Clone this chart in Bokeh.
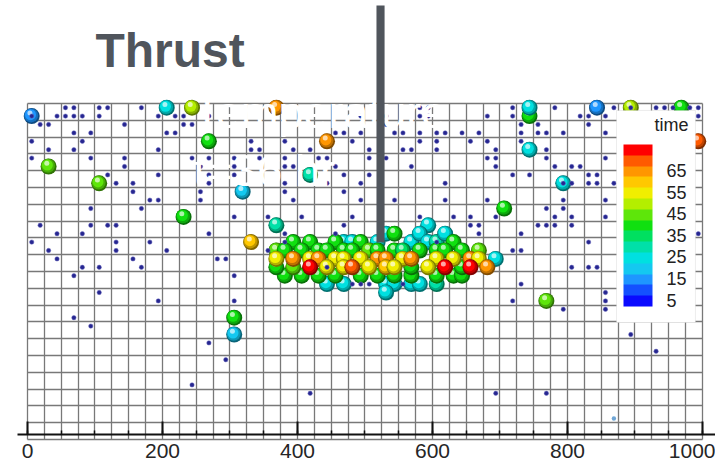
from bokeh.plotting import figure
from bokeh.models import (Range1d, LinearAxis, SingleIntervalTicker, Grid, Label,
                          BoxAnnotation, ColorBar, LinearColorMapper, FixedTicker,
                          ColumnDataSource)
from bokeh.embed import file_html
from bokeh.resources import INLINE

# ---------------------------------------------------------------- data
# colour scale for "time" (15 bands of 5, from 2 to 77)
TIME_LOW, TIME_HIGH = 2, 77
PALETTE = [
    "#0a0aff", "#1450ff", "#1e96ff", "#14c8f0", "#00e0e0",
    "#00e0a8", "#00e060", "#10e010", "#5ee60a", "#b4ee00",
    "#f0ee00", "#ffc800", "#ff9600", "#ff5a00", "#ff0000",
]
TIME_TICKS = [5, 15, 25, 35, 45, 55, 65]

X_TICK_LABEL_STEP = 200

# sensor points: y of each row and the x positions along it
dot_rows = [
    (493.75, [56.25, 68.75, 106.25, 118.75, 168.75, 581.25, 593.75, 718.75, 781.25,
              868.75, 893.75, 931.25, 943.75, 956.25, 981.25, 993.75]),
    (481.25, [6.25, 43.75, 56.25, 68.75, 81.25, 106.25, 193.75, 218.75, 231.25, 268.75,
              493.75, 531.25, 581.25, 593.75, 681.25, 718.75, 818.75, 831.25, 856.25, 993.75]),
    (468.75, [18.75, 31.25, 143.75, 231.25, 243.75, 531.25, 731.25, 756.25, 831.25]),
    (456.25, [68.75, 93.75, 206.25, 218.75, 456.25, 468.75, 493.75, 543.75, 556.25, 581.25,
              606.25, 618.75, 643.75, 668.75, 731.25, 756.25, 768.75, 793.75, 856.25]),
    (443.75, [6.25, 81.25, 331.25, 381.25, 481.25, 581.25, 606.25, 656.25, 681.25, 731.25]),
    (431.25, [31.25, 68.75, 193.75, 331.25, 343.75, 393.75, 418.75, 506.25, 556.25, 568.75,
              606.25, 693.75, 768.75]),
    (418.75, [6.25, 93.75, 143.75, 243.75, 268.75, 306.25, 343.75, 381.25, 431.25, 443.75,
              506.25, 531.25, 681.25, 693.75, 768.75, 856.25]),
    (406.25, [143.75, 256.25, 306.25, 381.25, 393.75, 456.25, 568.75, 693.75, 781.25,
              806.25, 818.75]),
    (393.75, [118.75, 193.75, 268.75, 306.25, 468.75, 506.25, 718.75, 743.75, 831.25, 843.75]),
    (381.25, [131.25, 156.25, 268.75, 381.25, 443.75, 493.75, 618.75, 793.75, 806.25,
              831.25, 843.75, 868.75]),
    (368.75, [156.25, 256.25, 381.25, 468.75]),
    (356.25, [181.25, 193.75, 256.25, 393.75, 493.75, 543.75, 618.75, 681.25, 793.75, 856.25]),
    (343.75, [93.75, 168.75, 768.75, 793.75]),
    (331.25, [306.25, 356.25, 406.25, 481.25, 581.25, 631.25, 656.25, 693.75, 781.25,
              806.25, 856.25]),
    (318.75, [18.75, 93.75, 118.75, 131.25, 468.75, 656.25, 668.75, 756.25, 768.75,
              781.25, 806.25]),
    (306.25, [43.75, 81.25, 268.75, 381.25, 456.25, 668.75, 731.25, 993.75]),
    (293.75, [6.25, 131.25, 181.25, 381.25, 606.25, 831.25]),
    (281.25, [31.25, 131.25, 206.25, 356.25, 718.75, 731.25]),
    (268.75, [43.75, 156.25, 281.25, 293.75]),
    (256.25, [81.25, 106.25, 168.75, 443.75, 806.25, 831.25, 843.75]),
    (243.75, [68.75, 306.25]),
    (231.25, [481.25, 493.75, 506.25, 556.25, 731.25]),
    (218.75, [106.25, 856.25]),
    (206.25, [193.75, 306.25, 718.75, 856.25]),
    (193.75, [793.75, 856.25]),
    (181.25, [68.75]),
    (168.75, [93.75]),
    (156.25, [893.75]),
    (143.75, [268.75]),
    (131.25, [931.25]),
    (118.75, [293.75]),
    (81.25, [243.75]),
    (68.75, [418.75, 693.75, 768.75]),
]
faint_dot_x = [868.75]
faint_dot_y = [31.25]

# particles: position and time (drawn in list order, back to front)
ball_x = [
    # isolated particles
    6.25, 206.25, 243.75, 368.75, 268.75, 443.75, 31.25, 106.25, 318.75, 418.75,
    231.25, 368.75, 331.25, 593.75, 706.25, 743.75, 743.75, 743.75, 843.75, 893.75,
    968.75, 993.75, 793.75, 768.75, 306.25, 306.25,
    # cluster - top row
    468.75, 481.25, 518.75, 531.25, 568.75, 581.25, 593.75, 606.25, 618.75,
    393.75, 418.75, 456.25, 493.75, 543.75, 631.25,
    # cluster - bottom row
    443.75, 468.75, 531.25, 543.75, 568.75, 581.25, 606.25, 531.25, 693.75,
    # cluster - upper green row
    368.75, 381.25, 406.25, 431.25, 443.75, 468.75, 481.25, 506.25, 518.75, 543.75,
    556.25, 581.25, 606.25, 618.75, 643.75, 668.75,
    # cluster - lower green row
    381.25, 406.25, 431.25, 456.25, 493.75, 518.75, 543.75, 568.75, 606.25, 631.25, 643.75,
    368.75, 393.75, 568.75, 643.75,
    # cluster - hot core
    368.75, 393.75, 418.75, 431.25, 456.25, 468.75, 493.75, 518.75, 531.25, 556.25,
    568.75, 606.25, 631.25, 656.25, 668.75,
    418.75, 443.75, 468.75, 481.25, 506.25, 531.25, 543.75, 593.75, 618.75, 656.25, 681.25,
]
ball_y = [
    481.25, 493.75, 493.75, 493.75, 443.75, 443.75, 406.25, 381.25, 368.75, 393.75,
    331.25, 318.75, 293.75, 318.75, 343.75, 481.25, 493.75, 431.25, 493.75, 493.75,
    493.75, 443.75, 381.25, 206.25, 181.25, 156.25,
    293.75, 293.75, 293.75, 306.25, 293.75, 306.25, 293.75, 293.75, 306.25,
    293.75, 293.75, 293.75, 293.75, 306.25, 293.75,
    231.25, 231.25, 231.25, 231.25, 231.25, 231.25, 231.25, 218.75, 268.75,
    281.25, 281.25, 281.25, 281.25, 281.25, 281.25, 281.25, 281.25, 281.25, 281.25,
    281.25, 281.25, 281.25, 281.25, 281.25, 281.25,
    243.75, 243.75, 243.75, 243.75, 243.75, 243.75, 243.75, 243.75, 243.75, 243.75, 243.75,
    256.25, 256.25, 256.25, 256.25,
    268.75, 268.75, 268.75, 268.75, 268.75, 268.75, 268.75, 268.75, 268.75, 268.75,
    268.75, 268.75, 268.75, 268.75, 268.75,
    256.25, 256.25, 256.25, 256.25, 256.25, 256.25, 256.25, 256.25, 256.25, 256.25, 256.25,
]
ball_t = [
    12, 22, 50, 63, 40, 63, 45, 43, 20, 27,
    40, 29, 57, 25, 40, 38, 23, 25, 12, 48,
    38, 70, 26, 43, 40, 21,
    24, 26, 23, 25, 26, 24, 25, 27, 24,
    40, 38, 40, 41, 38, 37,
    25, 24, 23, 26, 25, 24, 27, 22, 26,
    46, 40, 40, 41, 39, 40, 40, 42, 39, 40,
    33, 40, 41, 38, 40, 46,
    40, 41, 39, 40, 40, 40, 39, 40, 38, 40, 41,
    40, 42, 40, 40,
    55, 64, 55, 63, 56, 54, 55, 64, 63, 55,
    62, 56, 54, 64, 56,
    72, 55, 56, 68, 55, 57, 54, 55, 73, 73, 64,
]

# ---------------------------------------------------------------- helpers
def mix(hex_color, target, f):
    r, g, b = (int(hex_color[i:i + 2], 16) for i in (1, 3, 5))
    tr, tg, tb = target
    return "#%02x%02x%02x" % (round(r + (tr - r) * f), round(g + (tg - g) * f), round(b + (tb - b) * f))


def band_color(t):
    k = int((t - TIME_LOW) // ((TIME_HIGH - TIME_LOW) / len(PALETTE)))
    return PALETTE[max(0, min(len(PALETTE) - 1, k))]


# ---------------------------------------------------------------- figure
W, H = 715, 465
X0, X1 = -40.0, 1019.26
Y0, Y1 = -38.69, 653.27
PX_X = W / (X1 - X0)      # pixels per x unit
PX_Y = H / (Y1 - Y0)      # pixels per y unit

p = figure(width=W, height=H, x_range=Range1d(X0, X1), y_range=Range1d(Y0, Y1),
           x_axis_location=None, y_axis_location=None, min_border=0,
           output_backend="svg", toolbar_location=None)
p.outline_line_color = None
p.background_fill_color = "white"
p.border_fill_color = "white"
p.xgrid.visible = False
p.ygrid.visible = False

# 25-unit mesh over the 1000 x 500 domain
for dim, bnds, cross in ((0, (0, 1000), (0, 500)), (1, (0, 500), (0, 1000))):
    p.add_layout(Grid(dimension=dim, ticker=SingleIntervalTicker(interval=25),
                      bounds=bnds, cross_bounds=cross,
                      grid_line_color="#787878", grid_line_width=1.3))

# shaded spheres: each particle is a stack of discs, drawn particle by particle
layers = [  # (size px, shift x px, shift y px, mix target, mix amount)
    (16, 0.0, 0.0, (0, 0, 0), 0.50),
    (14, -0.6, 0.7, (0, 0, 0), 0.25),
    (11, -1.2, 1.4, (0, 0, 0), 0.0),
    (5, -1.8, 3.2, (255, 255, 255), 0.65),
]
bx, by, bs, bc = [], [], [], []
for x, y, t in zip(ball_x, ball_y, ball_t):
    base = band_color(t)
    for size, dx, dy, target, f in layers:
        bx.append(x + dx / PX_X)
        by.append(y + dy / PX_Y)
        bs.append(size)
        bc.append(mix(base, target, f))
p.scatter("x", "y", size="s", fill_color="c", line_color=None,
          source=ColumnDataSource(dict(x=bx, y=by, s=bs, c=bc)))

# sensor points
dot_x = [x for _, xs in dot_rows for x in xs]
dot_y = [y for y, xs in dot_rows for _ in xs]
p.scatter(dot_x, dot_y, size=4.4, fill_color="#262690", line_color="#7070c0", line_width=0.5)
p.scatter(faint_dot_x, faint_dot_y, size=4.4, fill_color="#6fa6d6", line_color=None)

# x axis
xaxis = LinearAxis(fixed_location=7.44, bounds=(-15, 1030),
                   ticker=SingleIntervalTicker(interval=X_TICK_LABEL_STEP, num_minor_ticks=4),
                   axis_line_color="#111111", axis_line_width=2,
                   major_tick_in=13, major_tick_out=0, major_tick_line_width=2,
                   major_tick_line_color="#111111",
                   minor_tick_in=4, minor_tick_out=0, minor_tick_line_width=1.5,
                   minor_tick_line_color="#111111",
                   major_label_standoff=9,
                   major_label_text_font="Liberation Sans",
                   major_label_text_font_size="21px",
                   major_label_text_color="#262626")
p.add_layout(xaxis, "below")

# overlay texts
text_font = "Liberation Sans"
p.add_layout(Label(x=246, y=487.3, text="Temperature", text_color="white",
                   text_font=text_font, text_font_size="45px", text_baseline="alphabetic"))
p.add_layout(Label(x=246, y=400.2, text="t=36 hr", text_color="white",
                   text_font=text_font, text_font_size="45px", text_baseline="alphabetic"))
p.add_layout(BoxAnnotation(left=517, right=529, bottom=293, top=646,
                           fill_color="#50555c", fill_alpha=1.0, line_color=None))
p.add_layout(Label(x=100.7, y=578.6, text="Thrust", text_color="#50555c",
                   text_font=text_font, text_font_style="bold", text_font_size="48px",
                   text_baseline="alphabetic"))

# colour legend
p.add_layout(BoxAnnotation(left=872.6, right=989.6, bottom=174.1, top=489.6,
                           fill_color="white", fill_alpha=1.0,
                           line_color="#c4c4c4", line_width=1))
mapper = LinearColorMapper(palette=PALETTE, low=TIME_LOW, high=TIME_HIGH)
cbar = ColorBar(color_mapper=mapper, ticker=FixedTicker(ticks=TIME_TICKS),
                location=(623, 159), width=29, height=162, padding=0, margin=0,
                display_low=3.7, display_high=74.6,
                background_fill_alpha=0, border_line_color=None, bar_line_color=None,
                major_tick_line_color=None, minor_tick_line_color=None,
                label_standoff=14,
                major_label_text_font=text_font, major_label_text_font_size="18px",
                major_label_text_color="#222222")
p.add_layout(cbar)
p.add_layout(Label(x=979.3, y=467.7, text="time", text_align="right", text_color="#222222",
                   text_font=text_font, text_font_size="18px", text_baseline="alphabetic"))

open("out.html", "w").write(file_html(p, INLINE))
